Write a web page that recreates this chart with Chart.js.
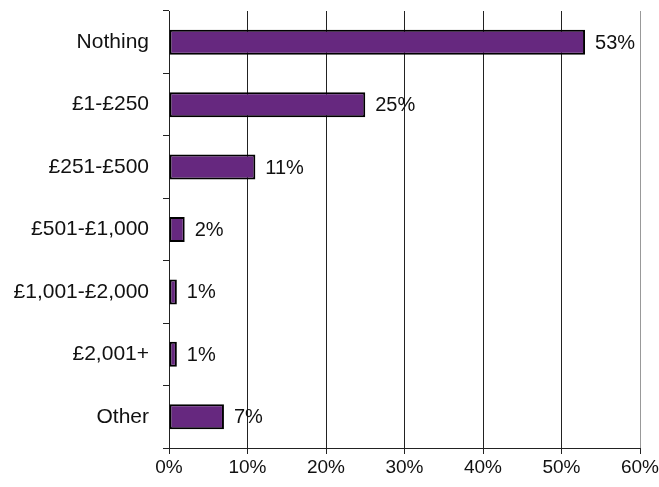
<!DOCTYPE html>
<html>
<head>
<meta charset="utf-8">
<script src="https://cdn.jsdelivr.net/npm/chart.js@4"></script>
<style>
  html, body { margin: 0; padding: 0; background: #fff; }
  #wrap { width: 659px; height: 487px; }
</style>
</head>
<body>
<div id="wrap"><canvas id="c" width="659" height="487"></canvas></div>
<script>
// Amount spent, share of respondents
const categories = ['Nothing', '£1-£250', '£251-£500', '£501-£1,000', '£1,001-£2,000', '£2,001+', 'Other'];
const shares = [53, 25, 11, 2, 1, 1, 7];
const xTicks = [0, 10, 20, 30, 40, 50, 60];

const FONT = '"Liberation Sans", Arial, sans-serif';

const valueLabels = {
  id: 'valueLabels',
  afterDatasetsDraw(chart) {
    const ctx = chart.ctx;
    const meta = chart.getDatasetMeta(0);
    ctx.save();
    ctx.font = '20px ' + FONT;
    ctx.fillStyle = '#111';
    ctx.textAlign = 'left';
    ctx.textBaseline = 'middle';
    meta.data.forEach((bar, i) => {
      ctx.fillText(shares[i] + '%', bar.x + 10, bar.y + 1);
    });
    ctx.restore();
  }
};

new Chart(document.getElementById('c'), {
  type: 'bar',
  data: {
    labels: categories,
    datasets: [{
      data: shares,
      backgroundColor: '#66287F',
      borderColor: '#000',
      borderWidth: 2,
      borderSkipped: false,
      categoryPercentage: 0.4,
      barPercentage: 1
    }]
  },
  options: {
    indexAxis: 'y',
    responsive: false,
    animation: false,
    devicePixelRatio: 1,
    layout: { padding: { top: 11, right: 19, left: 0, bottom: 0 } },
    plugins: { legend: { display: false }, tooltip: { enabled: false } },
    scales: {
      x: {
        min: 0,
        max: 60,
        afterBuildTicks(scale) { scale.ticks = xTicks.map(v => ({ value: v })); },
        afterFit(scale) {
          scale.height = 39;
          scale.paddingLeft = 0;
          scale.paddingRight = 0;
        },
        ticks: {
          callback: v => v + '%',
          font: { family: FONT, size: 19 },
          color: '#111',
          padding: 2,
          maxRotation: 0
        },
        grid: {
          color: ctx => (ctx.index === xTicks.length - 1 ? '#999' : '#222'),
          lineWidth: 1,
          tickLength: 6,
          tickColor: '#222'
        },
        border: { display: true, color: '#222', width: 1 }
      },
      y: {
        afterFit(scale) {
          scale.width = 169;
          scale.paddingTop = 0;
          scale.paddingBottom = 0;
        },
        ticks: {
          font: { family: FONT, size: 21 },
          color: '#111',
          padding: 14
        },
        grid: {
          offset: true,
          drawOnChartArea: false,
          drawTicks: true,
          tickLength: 6,
          color: '#222'
        },
        border: { display: true, color: '#222', width: 1 }
      }
    }
  },
  plugins: [valueLabels]
});
</script>
</body>
</html>
